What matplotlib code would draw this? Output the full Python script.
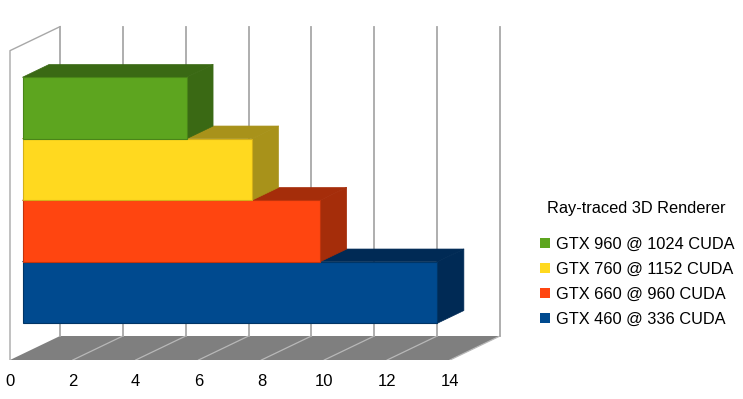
import numpy as np
import matplotlib.pyplot as plt
from matplotlib.patches import Polygon, Patch

plt.rcParams['font.family'] = ['Liberation Sans', 'DejaVu Sans']

# data (bottom to top)
labels = ['GTX 460 @ 336 CUDA', 'GTX 660 @ 960 CUDA', 'GTX 760 @ 1152 CUDA', 'GTX 960 @ 1024 CUDA']
values = [13.2, 9.47, 7.3, 5.22]
front_colors = ['#004a8f', '#ff4510', '#ffd91f', '#5da51f']
side_colors = ['#002a55', '#a52d0a', '#a8921a', '#3a6914']
edge_colors = ['#003566', '#c2340c', '#d4b018', '#4a8518']
xticks = [0, 2, 4, 6, 8, 10, 12, 14]
title = 'Ray-traced 3D Renderer'

# pixel scale of the fake 3d box
sx = 440 / 14      # px per value unit
sy = 61.5          # px per category unit
DX = 50 / sx       # full depth offset in value units
DY = 24 / sy       # full depth offset in category units
d0, d1 = 0.25, 0.78  # bar depth range
ytop = 4.03

fig = plt.figure(figsize=(7.43, 3.99), dpi=100)
ax = fig.add_axes([0, 39 / 399, 1, 360 / 399])
ax.set_xlim(-10 / sx, 733 / sx)
ax.set_ylim(-1, -1 + 360 / sy)
for s in ax.spines.values():
    s.set_visible(False)
ax.set_yticks([])
ax.set_xticks(xticks)
ax.tick_params(axis='x', length=0, pad=10, labelsize=12)

xmax = xticks[-1]
grid_c = '#a8a8a8'

# floor
ax.add_patch(Polygon([(0, -1), (xmax, -1), (xmax + DX, -1 + DY), (DX, -1 + DY)],
                     closed=True, facecolor='#7f7f7f', edgecolor='none', zorder=1))
for t in xticks[1:]:
    ax.plot([t, t + DX], [-1, -1 + DY], color='#b8b8b8', lw=0.9, zorder=2)

# back wall grid lines
for t in xticks:
    ax.plot([t + DX, t + DX], [-1 + DY, ytop + DY], color=grid_c, lw=1.3, zorder=2)
# left wall outline
ax.plot([0, 0, DX], [-1, ytop, ytop + DY], color=grid_c, lw=1.0, zorder=2)

# bars
for i, (v, fc, sc, ec) in enumerate(zip(values, front_colors, side_colors, edge_colors)):
    lo, hi = i - 0.5, i + 0.5
    top = [(d0 * DX, hi + d0 * DY), (v + d0 * DX, hi + d0 * DY),
           (v + d1 * DX, hi + d1 * DY), (d1 * DX, hi + d1 * DY)]
    side = [(v + d0 * DX, lo + d0 * DY), (v + d1 * DX, lo + d1 * DY),
            (v + d1 * DX, hi + d1 * DY), (v + d0 * DX, hi + d0 * DY)]
    ax.add_patch(Polygon(top, closed=True, facecolor=sc, edgecolor=sc, lw=0.5,
                         joinstyle='round', zorder=3 + i))
    ax.add_patch(Polygon(side, closed=True, facecolor=sc, edgecolor=sc, lw=0.5,
                         joinstyle='round', zorder=3 + i))
    ax.barh(i + d0 * DY, v, height=1, left=d0 * DX, color=fc, edgecolor=ec,
            lw=0.8, zorder=3 + i)

# legend
fig.text(636 / 743, 1 - 208 / 399, title, ha='center', va='center', fontsize=11.8)
handles = [Patch(facecolor=c, edgecolor='none') for c in front_colors[::-1]]
fig.legend(handles, labels[::-1], loc='upper left', bbox_to_anchor=(540 / 743, 1 - 237 / 399),
           frameon=False, fontsize=11.8, handlelength=0.6, handleheight=0.6,
           handletextpad=0.4, borderpad=0, borderaxespad=0, labelspacing=0.6)

fig.savefig('out.png', dpi=100)
